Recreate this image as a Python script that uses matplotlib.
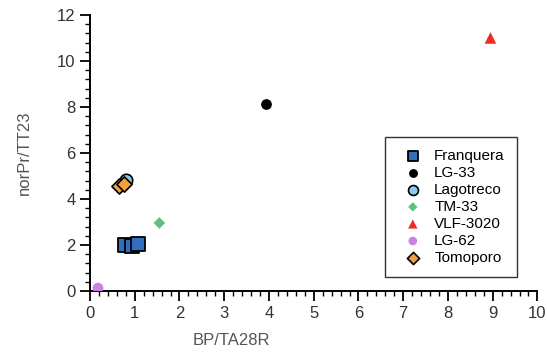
import matplotlib.pyplot as plt
from matplotlib.ticker import MultipleLocator

plt.rcParams['font.family'] = ['Liberation Sans', 'DejaVu Sans']

# sample points
fran_x = [0.78, 0.95, 1.08]
fran_y = [2.02, 1.95, 2.05]
lg33_x = [3.93]
lg33_y = [8.12]
lago_x = [0.8]
lago_y = [4.82]
tm33_x = [1.55]
tm33_y = [2.96]
vlf_x = [8.95]
vlf_y = [11.0]
lg62_x = [0.18]
lg62_y = [0.13]
tomo_x = [0.65, 0.75]
tomo_y = [4.55, 4.65]

fig = plt.figure(figsize=(5.47, 3.55), dpi=100)
ax = fig.add_axes([0.1645, 0.18, 0.818, 0.778])

ax.scatter(fran_x, fran_y, marker='s', s=90, c='#2f6fbd', edgecolors='black', linewidths=1.3, label='Franquera', zorder=3)
ax.scatter(lg33_x, lg33_y, marker='o', s=45, c='black', edgecolors='black', label='LG-33', zorder=3)
ax.scatter(lago_x, lago_y, marker='o', s=80, c='#8ccbea', edgecolors='black', linewidths=1.2, label='Lagotreco', zorder=3)
ax.scatter(tm33_x, tm33_y, marker='D', s=35, c='#5cc07e', edgecolors='none', label='TM-33', zorder=3)
ax.scatter(vlf_x, vlf_y, marker='^', s=70, c='#ee2d24', edgecolors='none', label='VLF-3020', zorder=3)
ax.scatter(lg62_x, lg62_y, marker='o', s=60, c='#c982e4', edgecolors='none', label='LG-62', zorder=3)
ax.scatter(tomo_x, tomo_y, marker='D', s=60, c='#f0a040', edgecolors='black', linewidths=1.2, label='Tomoporo', zorder=4)

ax.set_xlim(0, 10)
ax.set_ylim(0, 12)
ax.xaxis.set_major_locator(MultipleLocator(1))
ax.xaxis.set_minor_locator(MultipleLocator(0.2))
ax.yaxis.set_major_locator(MultipleLocator(2))
ax.yaxis.set_minor_locator(MultipleLocator(0.4))

for s in ['top', 'right']:
    ax.spines[s].set_visible(False)
for s in ['left', 'bottom']:
    ax.spines[s].set_linewidth(1.4)

ax.tick_params(which='major', direction='out', length=7, width=1.3, labelsize=12, colors='black', labelcolor='#333333')
ax.tick_params(which='minor', direction='out', length=3.5, width=1.0)

ax.set_xlabel('BP/TA28R', fontsize=12, color='#555555')
ax.set_ylabel('norPr/TT23', fontsize=12, color='#555555')
ax.xaxis.set_label_coords(0.317, -0.15)
ax.yaxis.set_label_coords(-0.13, 0.5)

leg = ax.legend(loc='lower left', bbox_to_anchor=(0.66, 0.05), frameon=True, fancybox=False,
                edgecolor='black', fontsize=11, handletextpad=0.4, labelspacing=0.2,
                borderpad=0.8, borderaxespad=0, scatterpoints=1, markerscale=0.8)
leg.get_frame().set_linewidth(1.0)

fig.savefig('out.png', dpi=100)
